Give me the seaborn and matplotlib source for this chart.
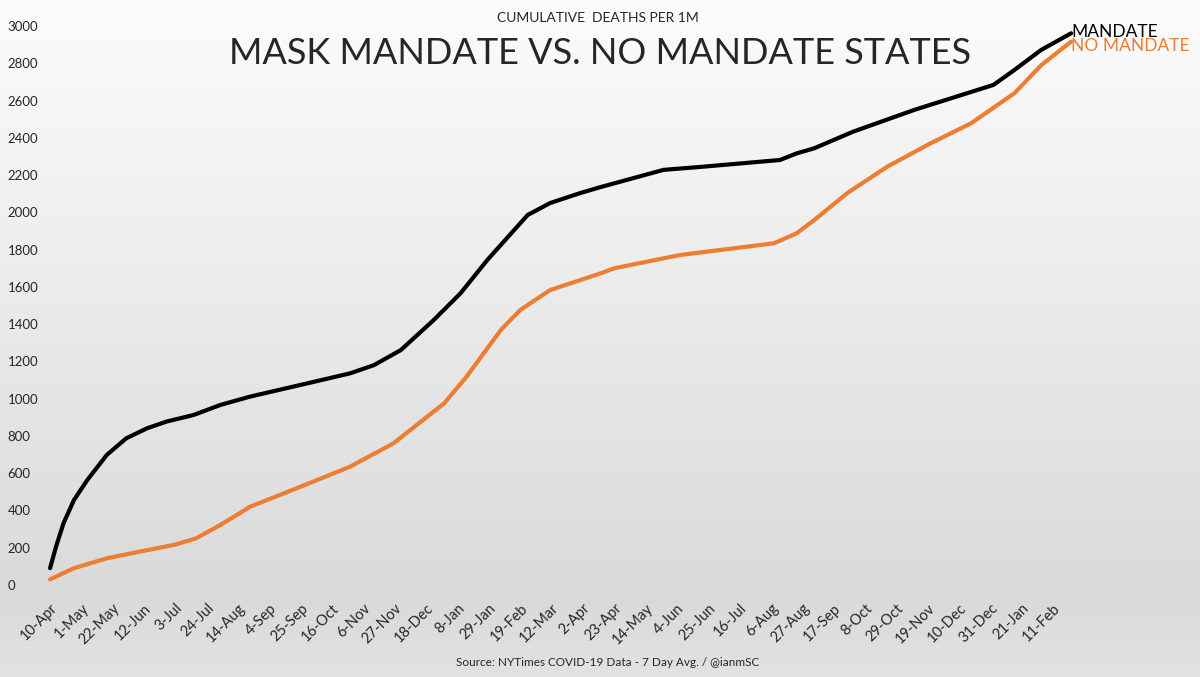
import matplotlib
matplotlib.use("Agg")
import matplotlib.pyplot as plt
import seaborn as sns
import pandas as pd
import numpy as np

# datos (dias desde el 10-Apr-2020, muertes acumuladas por 1M)
inicio = pd.Timestamp("2020-04-10")

dias_mandato = [0, 4, 9, 16, 25, 38, 51, 65, 78, 96, 114, 134, 168, 201, 217, 235, 257,
                275, 293, 311, 320, 335, 355, 369, 411, 436, 489, 500, 512, 538, 579, 632,
                646, 664, 684]
muertes_mandato = [90, 206, 331, 456, 564, 698, 787, 841, 877, 912, 966, 1011, 1074, 1136,
                   1180, 1261, 1422, 1566, 1745, 1906, 1986, 2050, 2103, 2136, 2228, 2244,
                   2281, 2316, 2344, 2433, 2550, 2684, 2764, 2872, 2961]

dias_sin_mandato = [0, 16, 38, 60, 83, 98, 114, 127, 134, 168, 201, 230, 264, 279, 302, 315,
                    335, 369, 378, 422, 485, 500, 512, 534, 561, 590, 617, 646, 664, 684]
muertes_sin_mandato = [30, 90, 143, 179, 215, 251, 322, 385, 420, 528, 635, 760, 975, 1118,
                       1369, 1476, 1583, 1673, 1700, 1771, 1834, 1887, 1959, 2103, 2246, 2371,
                       2478, 2639, 2790, 2916]

etiquetas = ["MANDATE", "NO MANDATE"]
colores = ["#000000", "#ED7D31"]
ticks_y = [0, 200, 400, 600, 800, 1000, 1200, 1400, 1600, 1800, 2000, 2200, 2400, 2600, 2800, 3000]

df = pd.concat([
    pd.DataFrame({"fecha": inicio + pd.to_timedelta(dias_mandato, unit="D"),
                  "muertes": muertes_mandato, "grupo": etiquetas[0]}),
    pd.DataFrame({"fecha": inicio + pd.to_timedelta(dias_sin_mandato, unit="D"),
                  "muertes": muertes_sin_mandato, "grupo": etiquetas[1]}),
])

sns.set_style("white")
plt.rcParams["font.family"] = ["Lato", "DejaVu Sans"]

fig = plt.figure(figsize=(12, 6.77), dpi=100)

# fondo degradado gris
fondo = fig.add_axes([0, 0, 1, 1], zorder=-10)
grad = np.concatenate([np.linspace(0.985, 0.85, 600), np.linspace(0.85, 0.885, 77)])
fondo.imshow(grad[:, None], aspect="auto", cmap="gray", vmin=0, vmax=1, extent=[0, 1, 0, 1])
fondo.axis("off")

ax = fig.add_axes([45 / 1200, 1 - 590 / 677, 1150 / 1200, 580 / 677])
ax.set_facecolor("none")
sns.lineplot(data=df, x="fecha", y="muertes", hue="grupo", palette=colores,
             linewidth=3, legend=False, ax=ax)

ax.set_xlim(inicio - pd.Timedelta(days=3.4), inicio + pd.Timedelta(days=767))
ax.set_ylim(-27, 3086)
ax.set_yticks(ticks_y)
ax.set_yticklabels([str(v) for v in ticks_y], fontsize=9.5, ha="left")
ax.tick_params(axis="y", length=0, pad=27)

ticks_x = pd.date_range(inicio, periods=33, freq="21D")
ax.set_xticks(ticks_x)
ax.set_xticklabels([f"{d.day}-{d.strftime('%b')}" for d in ticks_x], rotation=45,
                   ha="right", rotation_mode="anchor", fontsize=10.5)
ax.tick_params(axis="x", length=0, pad=8)
ax.set_xlabel("")
ax.set_ylabel("")
sns.despine(ax=ax, left=True, bottom=True)

# etiquetas al final de cada linea
ax.annotate(etiquetas[0], (df["fecha"][df["grupo"] == etiquetas[0]].iloc[-1], muertes_mandato[-1]),
            xytext=(0, 1), textcoords="offset points", ha="left", va="center",
            fontsize=12.5, color=colores[0])
ax.annotate(etiquetas[1], (df["fecha"][df["grupo"] == etiquetas[1]].iloc[-1], muertes_sin_mandato[-1]),
            xytext=(0, -3), textcoords="offset points", ha="left", va="center",
            fontsize=12.5, color=colores[1])

fig.text(0.498, 1 - 18 / 677, "CUMULATIVE  DEATHS PER 1M", ha="center", va="center", fontsize=10)
fig.text(0.5, 1 - 54 / 677, "MASK MANDATE VS. NO MANDATE STATES", ha="center", va="center",
         fontsize=26)
fig.text(0.506, 1 - 662 / 677, "Source: NYTimes COVID-19 Data - 7 Day Avg. / @ianmSC",
         ha="center", va="center", fontsize=8.5)

fig.savefig("out.png", dpi=100)
